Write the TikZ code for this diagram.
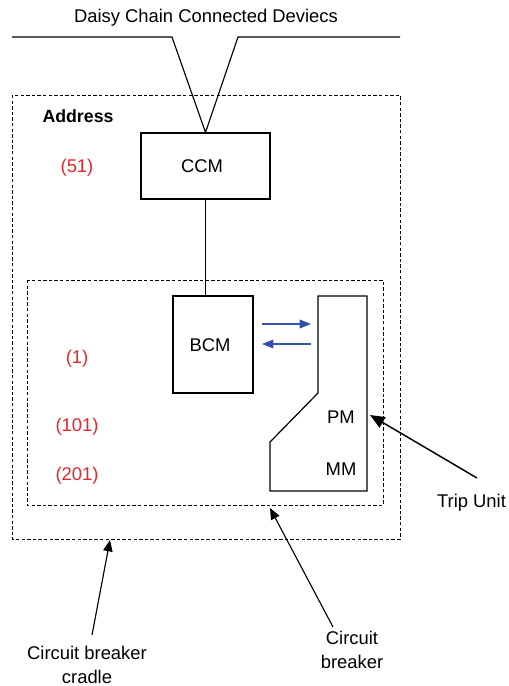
\documentclass[tikz,border=0pt]{standalone}
\usepackage{fontspec}
\setmainfont{Liberation Sans}
\usetikzlibrary{arrows.meta}
\definecolor{addrred}{RGB}{228,38,44}
\definecolor{linkblue}{RGB}{52,82,170}
\begin{document}
\begin{tikzpicture}[x=0.75pt,y=-0.75pt,
  line width=0.85pt,
  every node/.style={font=\fontsize{13.8}{18}\selectfont, inner sep=0pt},
  module/.style={draw, line width=0.9pt},
  zone/.style={draw, line width=0.65pt, dash pattern=on 2.6pt off 1.6pt},
  addr/.style={text=addrred},
  callout/.style={-{Triangle[length=8.5pt,width=7pt]}, line width=0.85pt},
  bigcallout/.style={-{Triangle[length=11pt,width=9pt]}, line width=1.1pt},
  link/.style={linkblue, line width=0.85pt, -{Triangle[length=8.5pt,width=6.5pt]}}
]
\useasboundingbox (0,0) rectangle (509,686);

% cradle and breaker outlines
\draw[zone] (12,95) rectangle (400,539);
\draw[zone] (27,280) rectangle (383,505);

% communication modules
\node[module, minimum width=129*0.75pt, minimum height=66*0.75pt] (ccm) at (205.5,166) {};
\node at (202,166) {CCM};
\node[module, minimum width=80*0.75pt, minimum height=97*0.75pt] (bcm) at (213,344.5) {};
\node at (210,345) {BCM};
\draw (ccm.south) -- (ccm.south |- bcm.north);

% daisy chain bus
\coordinate (busL) at (12,37);
\coordinate (kneeL) at (172,37);
\coordinate (kneeR) at (238,37);
\coordinate (busR) at (400,37);
\draw (busL) -- (kneeL) -- (ccm.north) -- (kneeR) -- (busR);
\node (daisy) at (206,18) {Daisy Chain Connected Deviecs};

% trip unit outline
\draw[line width=0.9pt] (318,296) -- (367,296) -- (367,491) -- (270,491)
  -- (270,442) -- (318,393) -- cycle;
\coordinate (tu) at (370,415);
\node (pm) at (341,417) {PM};
\node (mm) at (341,469) {MM};

% data exchange between BCM and trip unit
\coordinate (bcmA) at (262,324);
\coordinate (tuA) at (311,324);
\coordinate (tuB) at (311,344);
\coordinate (bcmB) at (262,344);
\draw[link] (bcmA) -- (tuA);
\draw[link] (tuB) -- (bcmB);

% labels and addresses
\node[font=\fontsize{13.3}{16}\selectfont\bfseries] (address) at (78,116) {Address};
\node[addr] (a51) at (77,168) {(51)};
\node[addr] (a1) at (77,359) {(1)};
\node[addr] (a101) at (77,427) {(101)};
\node[addr] (a201) at (77,476) {(201)};

% callouts
\node (tripunit) at (471.5,503) {Trip Unit};
\coordinate (tuFrom) at (477,478);
\draw[bigcallout] (tuFrom) -- (tu);

\node[align=center] (cb) at (352,650) {Circuit\\breaker};
\coordinate (cbFrom) at (333,627);
\coordinate (cbTo) at (270,508);
\draw[callout] (cbFrom) -- (cbTo);

\node[align=center] (cradle) at (87,665) {Circuit breaker\\cradle};
\coordinate (crFrom) at (92,635);
\coordinate (crTo) at (110,540);
\draw[callout] (crFrom) -- (crTo);
\end{tikzpicture}
\end{document}
